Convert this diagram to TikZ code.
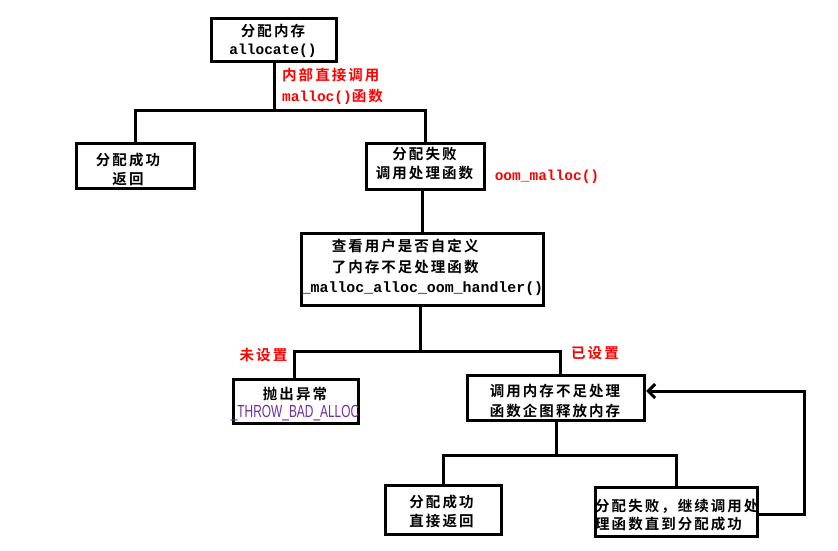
\documentclass[tikz,border=0pt]{standalone}
\usepackage{fontspec}
\setmainfont{Liberation Sans}
\newfontfamily\cjkb[UprightFont={* Bold},LetterSpace=14]{Noto Sans CJK SC}
\newfontfamily\monob[UprightFont={* Bold}]{Liberation Mono}
\newfontfamily\narrowsans[FakeStretch=0.68]{Liberation Sans}
\usetikzlibrary{arrows.meta}
\definecolor{lblred}{RGB}{255,0,0}
\definecolor{macropurple}{RGB}{112,48,160}
\newcommand\mtx[1]{{\monob #1}}
\begin{document}
\begin{tikzpicture}[x=1pt,y=-1pt,
  box/.style args={#1x#2}{draw=black, line width=3pt, minimum width=#1pt, minimum height=#2pt, inner sep=0pt},
  conn/.style={draw=black, line width=3pt},
  txt/.style={inner sep=0pt, align=center, font=\fontsize{14.5}{19}\selectfont\cjkb},
  lbl/.style={inner sep=0pt, align=left, text=lblred, font=\fontsize{14.5}{21}\selectfont\cjkb}
]
\useasboundingbox[fill=white] (0,0) rectangle (838,551);

% boxes
\node[box=125x43] (b1) at (274,40) {};
\node[box=118x45] (b2) at (135.5,166) {};
\node[box=118x46] (b3) at (425.5,166.5) {};
\node[box=242x72] (b4) at (422.5,269.5) {};
\node[box=125x44] (b5) at (296,401.5) {};
\node[box=177x45] (b6) at (556,398) {};
\node[box=116x49] (b7) at (443.5,510) {};
\node[box=162x49] (b8) at (676.5,512) {};

% texts
\node[txt, font=\fontsize{14.5}{18}\selectfont\cjkb] (t1) at (273,41) {分配内存\\\mtx{allocate()}};
\node[txt] (t2) at (128,169.5) {分配成功\\返回};
\node[txt] (t3) at (424.5,163.5) {分配失败\\调用处理函数};
\node[txt, align=left, font=\fontsize{14.5}{20.5}\selectfont\cjkb] (t4) at (422.5,267.5)
  {\hspace*{30pt}查看用户是否自定义\\\hspace*{30pt}了内存不足处理函数\\{\fontsize{14.9}{20.5}\selectfont\mtx{\_malloc\_alloc\_oom\_handler()}}};
\node[txt, font=\fontsize{14.5}{18}\selectfont\cjkb] (t5) at (295,404)
  {抛出异常\\{\narrowsans\fontsize{17.5}{18}\selectfont\color{macropurple}\_THROW\_BAD\_ALLOC}};
\node[txt, font=\fontsize{14.5}{20}\selectfont\cjkb] (t6) at (555,401) {调用内存不足处理\\函数企图释放内存};
\node[txt] (t7) at (441.5,511.5) {分配成功\\直接返回};
\node[txt, align=left, anchor=west, font=\fontsize{14.5}{18}\selectfont\cjkb] (t8) at (595,515)
  {分配失败，继续调用处\\理函数直到分配成功};

% red labels
\node[lbl, anchor=west] (l1) at (282,86.5) {内部直接调用\\\mtx{malloc()}函数};
\node[lbl] (l2) at (547,177) {\mtx{oom\_malloc()}};
\node[lbl] (l3) at (263.5,355) {未设置};
\node[lbl] (l4) at (595,353) {已设置};

% connectors
\coordinate (j1) at (274,110);
\draw[conn] (b1.south) -- (j1);
\draw[conn] (b2.north) |- (j1) -| (b3.north);
\draw[conn] (b4.north) -- (b4.north |- b3.south);
\coordinate (j2) at (420,351);
\coordinate (j2r) at (560,351);
\draw[conn] (b4.south -| j2) -- (j2);
\draw[conn] (b5.north -| 294,0) |- (j2) -- (j2r) -- (j2r |- b6.north);
\coordinate (j3) at (556,455);
\draw[conn] (b6.south) -- (j3);
\draw[conn] (b7.north) |- (j3) -| (b8.north);
\coordinate (fb) at (804,391);
\draw[conn, -{Straight Barb[length=7pt,width=14pt]}] ([yshift=-2pt]b8.east) -| (fb) -- (fb -| b6.east);
\end{tikzpicture}
\end{document}
